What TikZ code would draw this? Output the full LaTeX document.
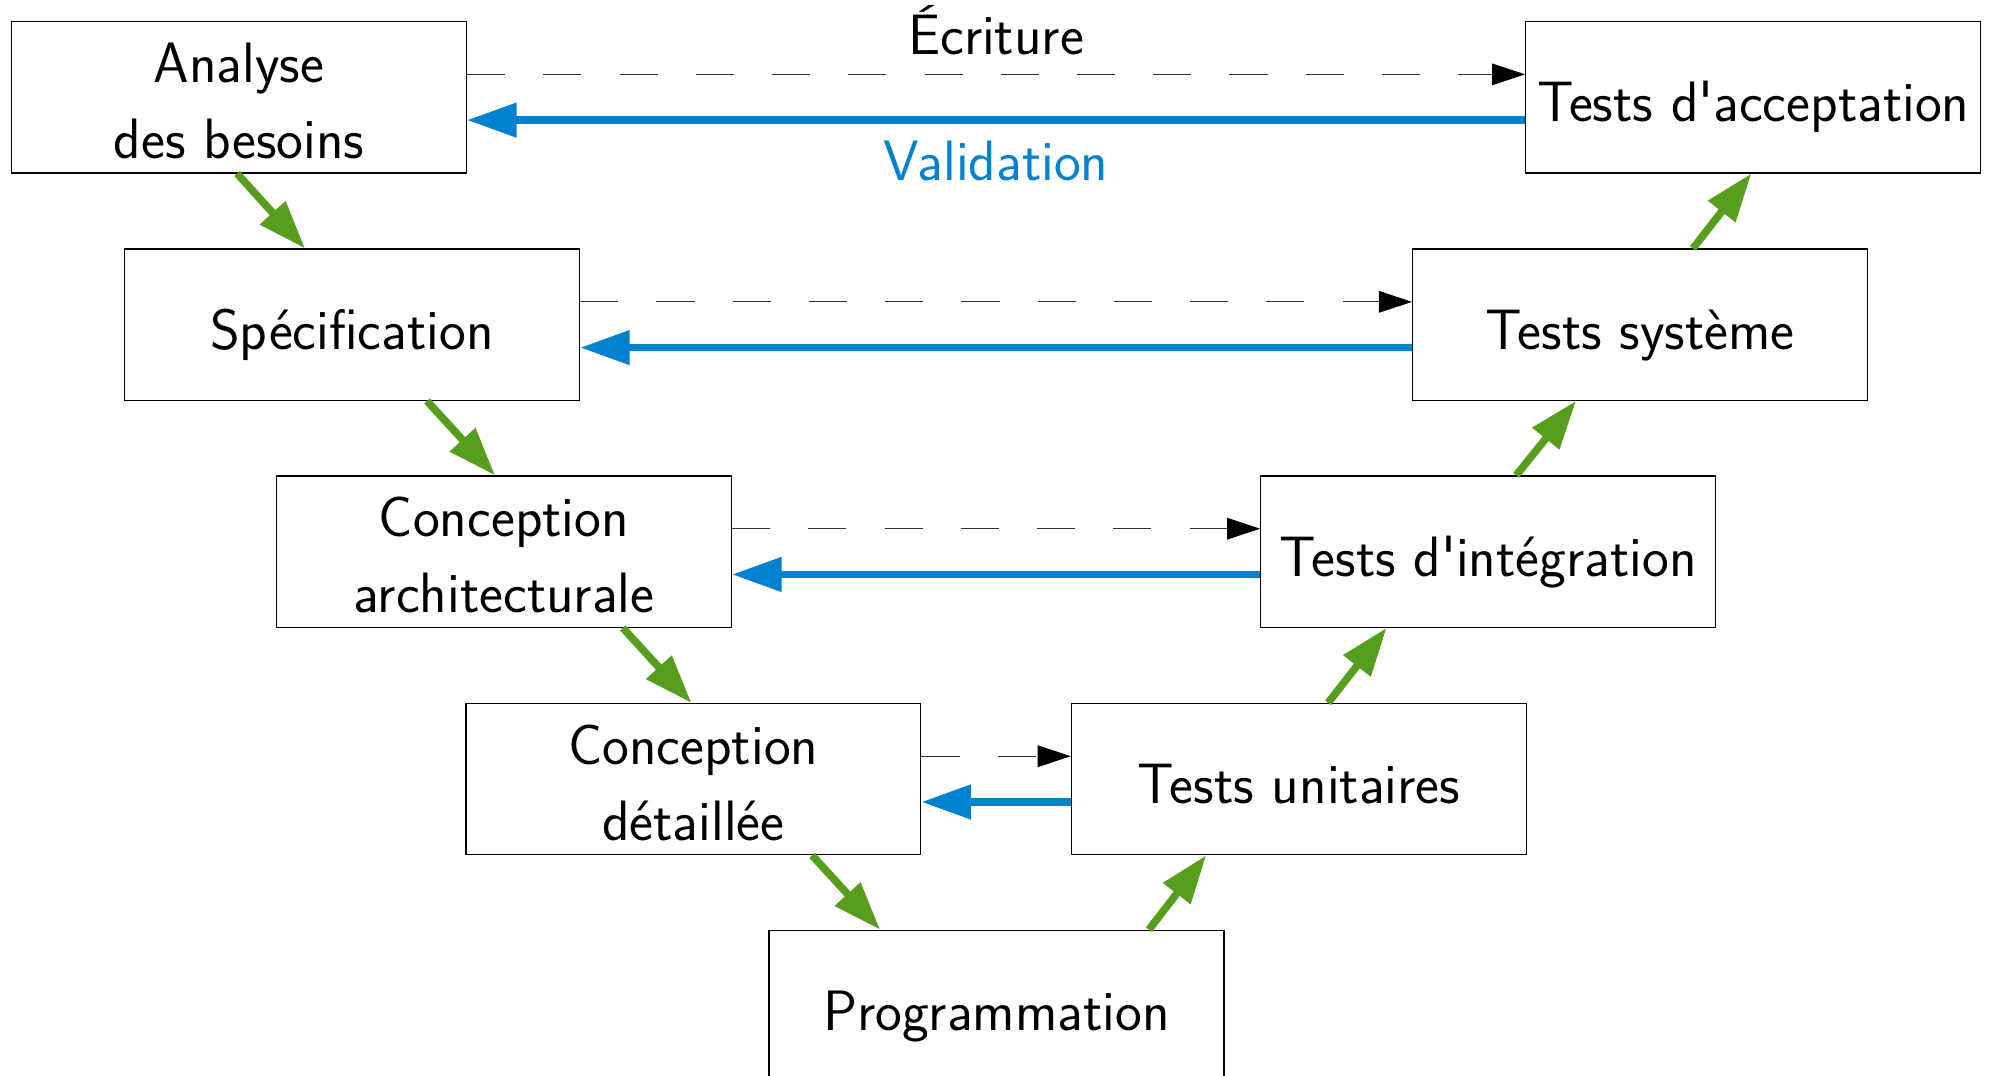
\documentclass[tikz,border=0pt]{standalone}
\usetikzlibrary{arrows.meta,calc}
\definecolor{vblue}{RGB}{0,130,208}
\definecolor{vgreen}{RGB}{88,158,30}
\newcommand\vfont{\fontsize{25.5}{34}\selectfont\sffamily}
\newcommand\fl{\rule{0pt}{21pt}}
\begin{document}
\begin{tikzpicture}[x=0.02cm,y=-0.02cm,
  box/.style={draw, line width=0.6pt, minimum width=7.16cm, minimum height=2.38cm,
    inner sep=0pt, font=\vfont, text height=22pt, text depth=0pt},
  boxtwo/.style={draw, line width=0.6pt, minimum width=7.16cm, minimum height=2.38cm,
    inner sep=0pt, align=center, font=\vfont},
  lbl/.style={font=\vfont},
  dline/.style={draw=black!80, line width=0.5pt, dash pattern=on 0.6cm off 0.6cm,
    -{Triangle[length=0.52cm,width=0.34cm,fill=black,color=black]}},
  bline/.style={draw=vblue, line width=3.4pt, -{Triangle[length=0.78cm,width=0.52cm]}},
  garrow/.style={draw=vgreen, line width=3.4pt, -{Triangle[length=0.76cm,width=0.52cm]}}]
\useasboundingbox (0,0) rectangle (1565,846);
\clip (0,0) rectangle (1565,846);
% boxes
\node[boxtwo] (an) at (188,76.5) {\fl Analyse\\des besoins};
\node[box] (sp) at (277,255.5) {Spécification};
\node[boxtwo] (ca) at (396.5,434) {\fl Conception\\architecturale};
\node[boxtwo] (cd) at (545.5,613) {\fl Conception\\détaillée};
\node[box] (pr) at (784,791.5) {Programmation};
\node[box] (tu) at (1022,613) {Tests unitaires};
\node[box] (ti) at (1171,434) {Tests d\textquotesingle intégration};
\node[box] (ts) at (1290.5,255.5) {Tests système};
\node[box] (ta) at (1379.5,76.5) {Tests d\textquotesingle acceptation};
% writing (dashed) arrows
\draw[dline] ($(an.east)+(0,-18)$) -- node[lbl, above=5.2pt] (ecr) {Écriture} ($(ta.west)+(0,-18)$);
\draw[dline] ($(sp.east)+(0,-18)$) -- ($(ts.west)+(0,-18)$);
\draw[dline] ($(ca.east)+(0,-18)$) -- ($(ti.west)+(0,-18)$);
\draw[dline] ($(cd.east)+(0,-18)$) -- ($(tu.west)+(0,-18)$);
% validation arrows
\draw[bline] ($(ta.west)+(0,18)$) -- node[lbl, below=4.3pt, text=vblue] (val) {Validation} ($(an.east)+(0,18)$);
\draw[bline] ($(ts.west)+(0,18)$) -- ($(sp.east)+(0,18)$);
\draw[bline] ($(ti.west)+(0,18)$) -- ($(ca.east)+(0,18)$);
\draw[bline] ($(tu.west)+(0,18)$) -- ($(cd.east)+(0,18)$);
% descending branch
\draw[garrow] ($(an.south)+(-1.5,0)$) -- ($(sp.north)+(-37,0)$);
\draw[garrow] ($(sp.south)+(59,0)$) -- ($(ca.north)+(-7,0)$);
\draw[garrow] ($(ca.south)+(93.5,0)$) -- ($(cd.north)+(-1.5,0)$);
\draw[garrow] ($(cd.south)+(93.5,0)$) -- ($(pr.north)+(-91.5,0)$);
% ascending branch
\draw[garrow] ($(pr.north)+(120,0)$) -- ($(tu.south)+(-73,0)$);
\draw[garrow] ($(tu.north)+(23,0)$) -- ($(ti.south)+(-80,0)$);
\draw[garrow] ($(ti.north)+(22,0)$) -- ($(ts.south)+(-50.5,0)$);
\draw[garrow] ($(ts.north)+(41.5,0)$) -- ($(ta.south)+(-1.5,0)$);
\end{tikzpicture}
\end{document}
